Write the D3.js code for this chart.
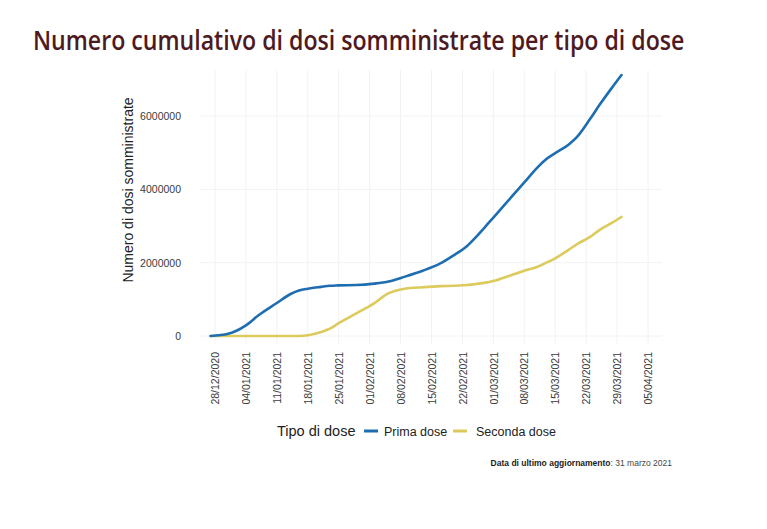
<!DOCTYPE html>
<html>
<head>
<meta charset="utf-8">
<script src="https://cdn.jsdelivr.net/npm/d3@7"></script>
<style>
  body { margin: 0; background: #fff; }
  svg { display: block; }
</style>
</head>
<body>
<div id="chart"></div>
<script>
// dates of the samples (dd/mm/yyyy)
const dates = [
  '27/12/2020', '31/12/2020', '04/01/2021', '07/01/2021', '11/01/2021', '14/01/2021',
  '16/01/2021', '18/01/2021', '21/01/2021', '23/01/2021', '25/01/2021', '29/01/2021',
  '02/02/2021', '05/02/2021', '09/02/2021', '13/02/2021', '17/02/2021', '20/02/2021',
  '23/02/2021', '25/02/2021', '27/02/2021', '01/03/2021', '05/03/2021', '08/03/2021',
  '11/03/2021', '13/03/2021', '15/03/2021', '18/03/2021', '20/03/2021', '23/03/2021',
  '25/03/2021', '28/03/2021', '30/03/2021'
];
// cumulative doses
const primaDose = [
  0, 60000, 290000, 580000, 900000, 1140000,
  1240000, 1290000, 1340000, 1370000, 1380000, 1390000,
  1430000, 1480000, 1620000, 1780000, 1980000, 2200000,
  2450000, 2690000, 2960000, 3230000, 3780000, 4190000,
  4600000, 4830000, 4990000, 5220000, 5440000, 5940000,
  6300000, 6800000, 7120000
];
const secondaDose = [
  0, 0, 0, 0, 0, 0,
  0, 20000, 110000, 200000, 350000, 620000,
  890000, 1150000, 1290000, 1330000, 1360000, 1370000,
  1390000, 1420000, 1450000, 1500000, 1660000, 1780000,
  1890000, 2000000, 2120000, 2350000, 2510000, 2710000,
  2890000, 3100000, 3250000
];
const seriesNames = ['Prima dose', 'Seconda dose'];
const seriesColors = ['#1d6db0', '#dccb5c'];
const xTicks = [
  '28/12/2020', '04/01/2021', '11/01/2021', '18/01/2021', '25/01/2021', '01/02/2021',
  '08/02/2021', '15/02/2021', '22/02/2021', '01/03/2021', '08/03/2021', '15/03/2021',
  '22/03/2021', '29/03/2021', '05/04/2021'
];
const yTicks = [0, 2000000, 4000000, 6000000];

const parse = d3.timeParse('%d/%m/%Y');
const fmt = d3.timeFormat('%d/%m/%Y');

const W = 767, H = 529;
const svg = d3.select('#chart').append('svg')
  .attr('width', W).attr('height', H)
  .style('font-family', '"Liberation Sans", Arial, sans-serif');

// title, squeezed horizontally to the reference width
let title = svg.append('text')
  .attr('x', 0).attr('y', 0)
  .style('font-family', '"Open Sans", sans-serif')
  .style('font-weight', 600)
  .style('font-size', '27px')
  .style('fill', '#4e1a22')
  .text('Numero cumulativo di dosi somministrate per tipo di dose');
let tw = title.node().getComputedTextLength();
title.attr('transform', 'translate(33,50) scale(' + (652 / tw) + ',1)');

// scales
let x = d3.scaleTime()
  .domain([parse('28/12/2020'), parse('05/04/2021')])
  .range([215, 648]);
let y = d3.scaleLinear()
  .domain([0, 7000000])
  .range([336, 336 - 7 * 36.65]);

const panel = { left: 200, right: 662, top: 70, bottom: 344 };

// faint grid
let grid = svg.append('g').attr('stroke', '#f2f2f2').attr('stroke-width', 1);
xTicks.forEach(t => {
  let xx = x(parse(t));
  grid.append('line').attr('x1', xx).attr('x2', xx).attr('y1', panel.top).attr('y2', panel.bottom);
});
yTicks.forEach(t => {
  grid.append('line').attr('x1', panel.left).attr('x2', panel.right).attr('y1', y(t)).attr('y2', y(t));
});

// y axis (labels only)
let yAxis = svg.append('g')
  .attr('transform', 'translate(' + panel.left + ',0)')
  .call(d3.axisLeft(y).tickValues(yTicks).tickFormat(d3.format('d')).tickSize(0).tickPadding(19));
yAxis.select('.domain').remove();
yAxis.selectAll('text').style('font-size', '10.5px').style('fill', '#3a3a3a')
  .style('font-family', '"Liberation Sans", Arial, sans-serif');

// x axis (rotated labels)
let xAxis = svg.append('g')
  .attr('transform', 'translate(0,' + panel.bottom + ')')
  .call(d3.axisBottom(x).tickValues(xTicks.map(parse)).tickFormat(fmt).tickSize(0));
xAxis.select('.domain').remove();
xAxis.selectAll('text')
  .attr('transform', 'rotate(-90)')
  .attr('x', -8).attr('y', 0).attr('dy', '0.35em')
  .attr('text-anchor', 'end')
  .style('font-size', '10.5px').style('fill', '#3a3a3a')
  .style('font-family', '"Liberation Sans", Arial, sans-serif');

// y axis title
svg.append('text')
  .attr('transform', 'translate(133,190) rotate(-90)')
  .attr('text-anchor', 'middle')
  .style('font-size', '14px').style('fill', '#222')
  .text('Numero di dosi somministrate');

// lines
let line = d3.line()
  .x((d, i) => x(parse(dates[i])))
  .y(d => y(d))
  .curve(d3.curveMonotoneX);

// second dose first, first dose on top
[secondaDose, primaDose].forEach((vals, j) => {
  let k = 1 - j;
  svg.append('path')
    .datum(vals)
    .attr('fill', 'none')
    .attr('stroke', seriesColors[k])
    .attr('stroke-width', 2.6)
    .attr('stroke-linejoin', 'round')
    .attr('stroke-linecap', 'round')
    .attr('d', line);
});

// legend
let leg = svg.append('g').style('fill', '#222');
leg.append('text').attr('x', 277).attr('y', 436).style('font-size', '14.5px').text('Tipo di dose');
let legX = [364, 453];
let legTextX = [384, 476];
seriesNames.forEach((n, k) => {
  leg.append('line')
    .attr('x1', legX[k]).attr('x2', legX[k] + 14)
    .attr('y1', 431).attr('y2', 431)
    .attr('stroke', seriesColors[k]).attr('stroke-width', 3);
  leg.append('text').attr('x', legTextX[k]).attr('y', 436).style('font-size', '12.5px').text(n);
});

// footer
let foot = svg.append('text')
  .attr('x', 672).attr('y', 466)
  .attr('text-anchor', 'end')
  .style('font-size', '8.5px').style('fill', '#222');
foot.append('tspan').style('font-weight', 'bold').text('Data di ultimo aggiornamento');
foot.append('tspan').style('fill', '#444').text(': 31 marzo 2021');
</script>
</body>
</html>
